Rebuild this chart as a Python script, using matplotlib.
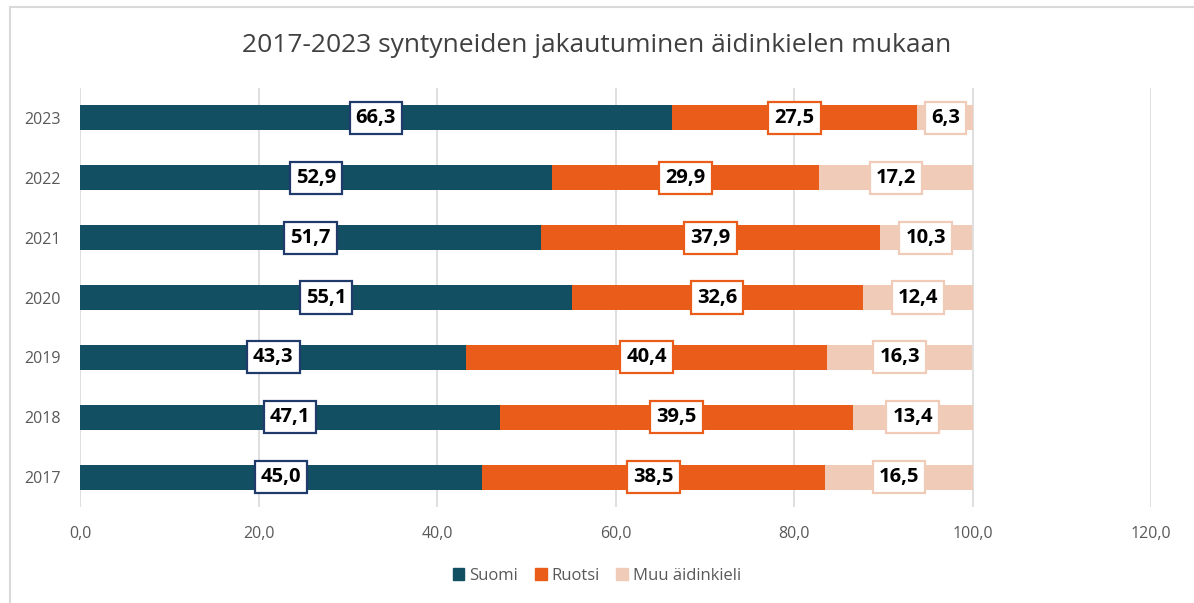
import matplotlib.pyplot as plt
from matplotlib.lines import Line2D

years = ['2017', '2018', '2019', '2020', '2021', '2022', '2023']
suomi = [45.0, 47.1, 43.3, 55.1, 51.7, 52.9, 66.3]
ruotsi = [38.5, 39.5, 40.4, 32.6, 37.9, 29.9, 27.5]
muu = [16.5, 13.4, 16.3, 12.4, 10.3, 17.2, 6.3]

series = [('Suomi', suomi, '#124F63', '#1F3A6B'),
          ('Ruotsi', ruotsi, '#E95C1A', '#E95C1A'),
          ('Muu äidinkieli', muu, '#F0CBB8', '#F0CBB8')]

plt.rcParams['font.family'] = ['Open Sans', 'DejaVu Sans']

fig = plt.figure(figsize=(11.94, 6.03), dpi=100)
ax = fig.add_axes([80 / 1194, 1 - 507 / 603, 1071 / 1194, 419 / 603])

left = [0.0] * len(years)
y = list(range(len(years)))
for name, vals, col, edge in series:
    ax.barh(y, vals, left=left, height=0.42, color=col, label=name, zorder=2)
    for i, v in enumerate(vals):
        ax.text(left[i] + v / 2, i, ('%.1f' % v).replace('.', ','), ha='center', va='center',
                fontsize=14.5, fontweight='bold', color='black', zorder=4,
                bbox=dict(boxstyle='square,pad=0.3', fc='white', ec=edge, lw=1.6))
    left = [a + b for a, b in zip(left, vals)]

ax.set_xlim(0, 120)
ax.set_ylim(-0.5, len(years) - 0.5)
ax.set_xticks(range(0, 121, 20))
ax.set_xticklabels([('%.1f' % t).replace('.', ',') for t in range(0, 121, 20)],
                   fontsize=11.5, color='#595959')
ax.set_yticks(y)
ax.set_yticklabels(years, fontsize=11.5, color='#595959')
ax.tick_params(axis='both', length=0, pad=14)
ax.tick_params(axis='y', pad=14)
ax.grid(axis='x', color='#D9D9D9', lw=1.2, zorder=0)
for s in ax.spines.values():
    s.set_visible(False)

fig.text(0.5, 1 - 45 / 603, '2017-2023 syntyneiden jakautuminen äidinkielen mukaan',
         ha='center', va='center', fontsize=19, color='#404040')

handles = [plt.Rectangle((0, 0), 1, 1, color=c) for _, _, c, _ in series]
fig.legend(handles, [s[0] for s in series], loc='center', bbox_to_anchor=(0.5, 1 - 576 / 603),
           ncol=3, frameon=False, fontsize=12, handlelength=0.7, handleheight=0.7,
           handletextpad=0.3, columnspacing=1.0, labelcolor='#595959')

fig.add_artist(Line2D([10 / 1194, 10 / 1194], [0, 1 - 7 / 603], transform=fig.transFigure,
                      color='#D9D9D9', lw=1.5))
fig.add_artist(Line2D([10 / 1194, 1], [1 - 7 / 603, 1 - 7 / 603], transform=fig.transFigure,
                      color='#D9D9D9', lw=1.5))

fig.savefig('out.png', dpi=100)
